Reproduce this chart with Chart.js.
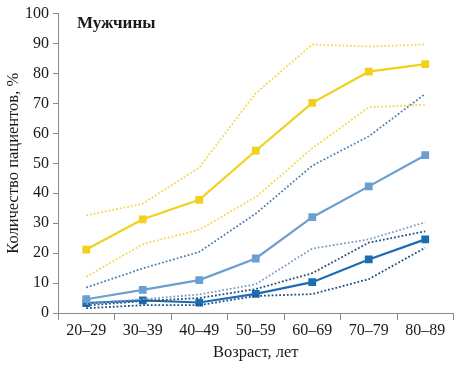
<!DOCTYPE html>
<html>
<head>
<meta charset="utf-8">
<script src="https://cdn.jsdelivr.net/npm/chart.js@4/dist/chart.umd.min.js"></script>
<style>
  html, body { margin: 0; padding: 0; background: #fff; }
  #wrap { width: 459px; height: 367px; }
</style>
</head>
<body>
<div id="wrap"><canvas id="c" width="459" height="367"></canvas></div>
<script>
// ── данные ──
const ageGroups = ['20–29', '30–39', '40–49', '50–59', '60–69', '70–79', '80–89'];

const yellowMain  = [21.2, 31.3, 37.8, 54.2, 70.2, 80.6, 83.1];
const yellowHigh  = [32.6, 36.5, 48.6, 73.4, 89.7, 89.0, 89.7];
const yellowLow   = [12.1, 23.0, 27.8, 38.7, 55.0, 68.7, 69.6];

const lightMain   = [4.6, 7.7, 11.0, 18.2, 32.0, 42.3, 52.7];
const lightHigh   = [8.5, 14.9, 20.4, 33.2, 49.2, 59.0, 73.2];
const lightLow    = [3.0, 4.6, 6.2, 9.6, 21.5, 24.6, 30.3];

const darkMain    = [3.3, 4.2, 3.5, 6.4, 10.3, 17.9, 24.6];
const darkHigh    = [2.5, 4.0, 5.0, 8.0, 13.3, 23.5, 27.3];
const darkLow     = [1.6, 2.6, 2.6, 5.7, 6.3, 11.3, 21.8];

const yTicks = [0, 10, 20, 30, 40, 50, 60, 70, 80, 90, 100];

const SERIF = '"Liberation Serif", "DejaVu Serif", serif';

function solid(data, color) {
  return {
    data, borderColor: color, backgroundColor: color,
    borderWidth: 2.2, pointStyle: 'rect', pointRadius: 5.5, pointHoverRadius: 5.5,
    pointBorderWidth: 0, tension: 0,
  };
}
function dotted(data, color) {
  return {
    data, borderColor: color, backgroundColor: color,
    borderWidth: 1.8, borderDash: [1.8, 2], pointRadius: 0, tension: 0,
  };
}

// подпись «Мужчины» внутри области графика
const labelPlugin = {
  id: 'sexLabel',
  afterDraw(chart) {
    const { ctx } = chart;
    ctx.save();
    ctx.font = 'bold 17px ' + SERIF;
    ctx.fillStyle = '#1a1a1a';
    ctx.textBaseline = 'middle';
    ctx.fillText('Мужчины', 77, 24);
    ctx.restore();
  }
};

new Chart(document.getElementById('c'), {
  type: 'line',
  data: {
    labels: ageGroups,
    datasets: [
      dotted(yellowHigh, '#f3d94a'),
      dotted(yellowLow,  '#f3d94a'),
      dotted(lightHigh,  '#4f7fae'),
      dotted(lightLow,   '#7d9fc4'),
      dotted(darkHigh,   '#1e4f82'),
      dotted(darkLow,    '#1e4f82'),
      solid(yellowMain, '#f1d01e'),
      solid(lightMain,  '#6a9fd0'),
      solid(darkMain,   '#1c6cb3'),
    ]
  },
  options: {
    responsive: false,
    animation: false,
    layout: { padding: { top: 4, right: 4, left: 0, bottom: 0 } },
    plugins: { legend: { display: false }, tooltip: { enabled: false } },
    scales: {
      x: {
        offset: true,
        grid: { display: true, drawOnChartArea: false, drawTicks: true, tickLength: 7, offset: true, color: '#8a8a8a' },
        border: { color: '#8a8a8a', width: 1 },
        ticks: { color: '#1a1a1a', font: { family: SERIF, size: 16 }, padding: 1, maxRotation: 0, autoSkip: false },
        title: { display: true, text: 'Возраст, лет', color: '#1a1a1a', font: { family: SERIF, size: 16.5 }, padding: { top: 1 } },
        afterFit(scale) { scale.height = 54; }
      },
      y: {
        min: 0, max: 100,
        afterBuildTicks(scale) { scale.ticks = yTicks.map(v => ({ value: v })); },
        grid: { display: true, drawOnChartArea: false, drawTicks: true, tickLength: 5, color: '#8a8a8a' },
        border: { color: '#8a8a8a', width: 1 },
        ticks: { color: '#1a1a1a', font: { family: SERIF, size: 16 }, padding: 4 },
        title: { display: true, text: 'Количество пациентов, %', color: '#1a1a1a', font: { family: SERIF, size: 16.5 }, padding: { bottom: 1 } },
        afterFit(scale) { scale.width = 58; }
      }
    }
  },
  plugins: [labelPlugin]
});
</script>
</body>
</html>
